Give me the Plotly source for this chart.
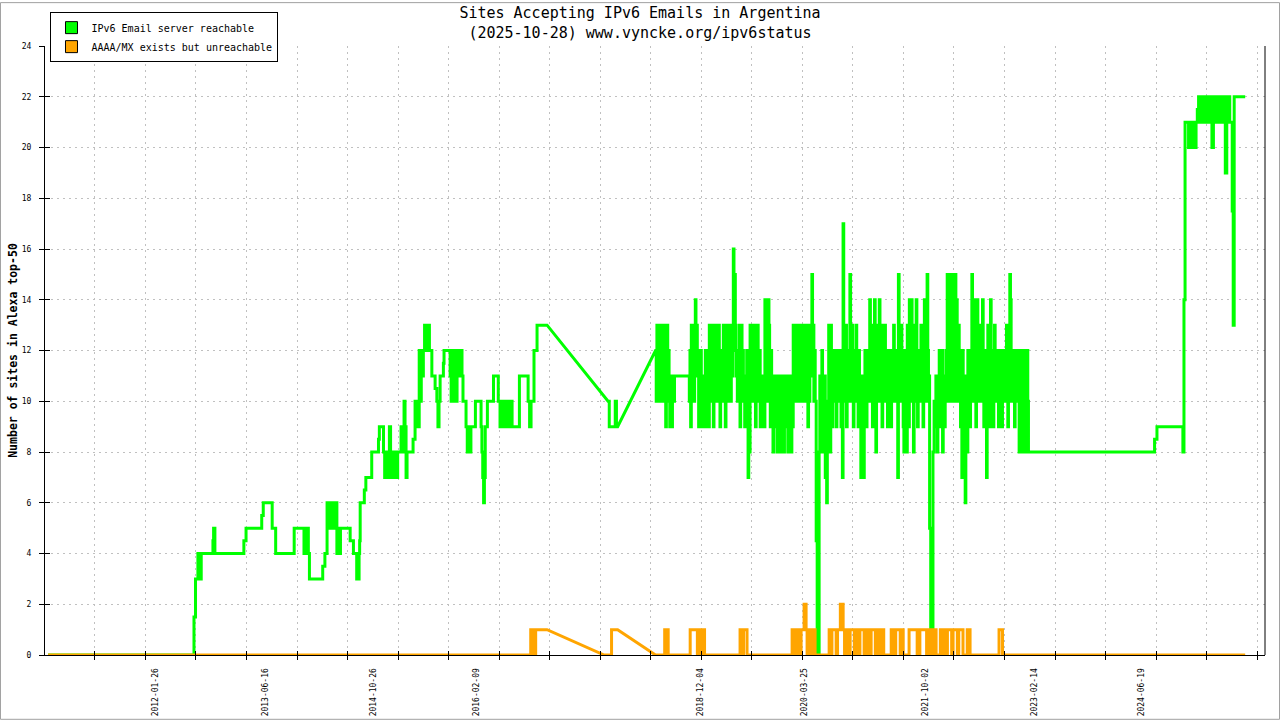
import plotly.graph_objects as go
import pandas as pd

# Each chunk starts at a date and holds its values for equal shares of time
# until the next chunk starts. An empty chunk marks a gap in the measurements.
green_starts = [
    "2010-09-22", "2012-07-23", "2012-07-30", "2012-08-10", "2012-08-29",
    "2012-10-18", "2012-10-27", "2013-03-09", "2013-03-19", "2013-05-30",
    "2013-06-06", "2013-07-17", "2013-08-02", "2013-10-26", "2013-12-10",
    "2014-01-04", "2014-03-06", "2014-03-26", "2014-05-10", "2014-06-01",
    "2014-07-10", "2014-08-09", "2014-08-20", "2014-08-25", "2014-09-13",
    "2014-09-20", "2014-10-17", "2014-11-17", "2014-11-21", "2014-12-10",
    "2015-02-24", "2015-05-04", "2015-06-11", "2015-07-20", "2015-08-04",
    "2015-08-12", "2015-08-27", "2015-09-11", "2015-09-14", "2015-10-12",
    "2015-12-10", "2015-12-24", "2016-01-21", "2016-02-05", "2016-03-02",
    "2016-03-25", "2016-03-31", "2016-04-28", "2016-05-20", "2016-05-28",
    "2016-07-27", "2016-08-25", "2016-10-04", "2016-10-31", "2016-11-14",
    "2016-12-30", "2017-10-06", "2017-11-19", "2018-05-12", "2018-08-07",
    "2018-10-14", "2019-05-04", "2019-07-20", "2020-02-03", "2020-05-14",
    "2020-06-01", "2021-01-13", "2021-10-16", "2021-11-16", "2023-01-18",
    "2024-08-19", "2024-08-30", "2024-12-27", "2025-01-01", "2025-01-06",
    "2025-01-22", "2025-03-09", "2025-08-06", "2025-08-24",
]
green_values = [
    [0], [1.5], [3], [4, 3, 4, 3, 4], [4],
    [4.5, 5, 5], [4], [4.5], [5], [5.5],
    [6], [5], [4], [5], [4, 5, 4, 5, 4],
    [3], [3.5, 4], [6, 5, 6, 6, 5, 6, 5, 6], [4, 5, 4, 5], [5],
    [4.5, 4], [3], [4, 4.5], [6], [6.5],
    [7], [8], [8.5], [9], [8, 7, 8, 7, 7, 9, 8, 7, 8, 7, 8, 7, 8, 8],
    [8, 9, 8, 9, 10, 9, 7, 8, 8, 8, 8, 8, 8, 8.5, 8.5],
    [10, 9, 10, 9, 12, 10, 12, 11], [12, 13, 13, 12, 13, 12, 12], [11], [10.5],
    [10, 9, 10], [11], [11.5], [12],
    [11, 10, 12, 10, 10, 12, 10, 12, 12, 11, 12, 12, 11],
    [10], [9, 8, 9, 8, 9], [9], [10], [9, 8, 7, 6, 7, 9],
    [9], [10], [11], [10], [9, 10, 9, 10, 9, 10, 9, 10, 9, 10, 9, 10, 9],
    [9], [11], [10, 9, 10, 10], [12], [13],
    [], [10, 9, 9, 9, 9, 9, 10, 9], [],
    [12, 10, 13, 11, 13, 10, 12, 11, 13, 10, 13, 11, 12, 10, 13, 9, 10, 13, 10, 12,
     11, 9, 10, 11, 9, 10, 11, 10],
    [11],
    [10, 12, 9, 13, 10, 11, 13, 10, 13, 14, 12, 13, 11, 12, 9, 11, 10, 12, 9, 11,
     10, 9, 11, 10, 12, 9, 11, 10, 12, 9, 13, 11, 10, 13, 11, 12, 9, 13, 10, 11,
     13, 10, 12, 11, 13, 10, 9, 11, 12, 10, 11, 13, 10, 12, 9, 13, 11, 12, 13, 10,
     11, 13, 10, 12, 11, 12],
    [16, 12, 15, 13, 11, 12, 10, 12, 11, 13, 9, 11, 13, 10, 12, 11, 10, 9, 11, 10,
     12, 9, 7, 10, 8],
    [13, 10, 11, 13, 10, 12, 11, 13, 9, 12, 10, 13, 11, 10, 12, 9, 11, 10, 9, 11,
     10, 9, 14, 11, 13, 10, 12, 14, 13, 10, 9, 12, 11, 10, 8, 11, 10, 9, 11, 10,
     8, 10, 11, 9, 11, 8, 10, 11, 9, 10, 8, 11, 10, 9, 11, 10, 8, 10, 11, 9,
     10, 8, 11, 9],
    [13, 10, 11, 12, 10, 13, 11, 10, 12, 11, 13, 10, 12, 10, 13, 11, 12, 10, 13, 11,
     10, 13, 9, 11, 10, 13, 11, 12, 15, 11, 13, 10, 12],
    [10, 4.5, 0, 0],
    [8, 11, 9, 10, 12, 8, 11, 10, 11, 7, 9, 6, 10, 9, 13, 10, 8, 13, 11, 9,
     12, 10, 11, 10, 12, 9, 11, 10, 12, 11, 10, 12, 9, 11, 7, 17, 12, 10, 11, 13,
     9, 12, 10, 11, 10, 15, 12, 10, 13, 11, 9, 12, 10, 11, 13, 10, 11, 9, 12, 10,
     11, 7, 10, 9, 11, 7, 10, 12, 11, 9, 12, 10],
    [12, 10, 14, 11, 10, 13, 9, 12, 11, 14, 10, 8, 12, 13, 11, 10, 14, 12, 10, 13,
     9, 12, 11, 10, 13, 11, 10, 12, 9, 11, 10, 12, 11, 9, 10, 12, 11, 13, 10, 12,
     11, 10, 12, 7, 15, 10, 12, 11, 13, 10, 11, 9, 8, 12, 10, 11, 8, 13, 10, 9,
     14, 10, 12, 14, 11, 12, 8, 13, 10, 11, 14, 10, 9, 12, 11, 12, 10, 13, 11, 10,
     9, 12, 14, 11, 12, 10, 15, 12],
    [11, 5, 0, 0, 8, 10],
    [9, 11, 10, 8, 11, 10, 12, 9, 11, 10, 12, 8, 11, 10, 9, 11, 12, 10,
     15, 11, 12, 15, 10, 13, 11, 15, 12, 10, 13, 11, 15, 10, 14, 12, 11, 13, 10, 12,
     9, 11, 7, 12, 10, 8, 11, 6, 10, 11, 8, 12, 10, 11, 9,
     12, 10, 15, 11, 10, 14, 12, 11, 9, 12, 14, 10, 12, 11, 10, 13, 11, 12, 14, 10,
     9, 12, 11, 10, 7, 11, 13, 10, 12, 9,
     14, 11, 10, 12, 9, 11, 13, 10, 12, 11, 10, 12, 9, 11, 12, 10, 11, 9, 12, 11,
     10, 12, 11, 10, 13, 11, 9, 12, 10, 15,
     14, 11, 12, 10, 11, 12, 9, 11, 10, 12, 11, 10, 12, 8, 11, 10, 9, 12, 8, 10,
     12, 11, 8, 10, 11, 12, 10],
    [8], [8.5], [9], [8], [14], [21],
    [20, 21, 20, 20, 21, 20, 21, 21.5],
    [22, 21, 22, 21, 22, 21, 22, 21, 22, 20, 21, 22, 21, 22, 21, 22, 21, 22, 19, 21,
     22, 21],
    [21, 17.5, 13, 22],
    [22],
]
green_end = "2025-10-09"

orange_starts = [
    "2010-09-22", "2016-10-16", "2016-11-19", "2016-12-30", "2017-09-18",
    "2017-10-22", "2017-11-19", "2018-05-12", "2018-06-23", "2018-07-09",
    "2018-10-18", "2018-12-23", "2019-06-04", "2019-07-06", "2020-01-29",
    "2020-05-18", "2020-07-17", "2021-03-31", "2021-04-28", "2021-06-22",
    "2021-07-19", "2021-10-26", "2021-11-07", "2022-04-25", "2022-09-05",
    "2022-09-21",
]
orange_values = [
    [0], [1, 0, 1, 0, 1, 1], [1], [], [0],
    [1], [], [0], [1, 0, 1], [0],
    [1, 1, 1, 1, 1, 0, 1, 0, 1, 1], [0], [1, 0, 1, 1], [0],
    [1, 0, 1, 1, 0, 1, 1, 1, 0, 1, 1, 1, 2, 2, 1, 0, 1, 1, 1, 0, 1, 1, 1, 0],
    [0],
    [1, 0, 1, 1, 1, 0, 1, 1, 2, 2, 1, 0, 1, 1, 0, 1, 1, 1, 0, 1,
     1, 0, 1, 1, 1, 0, 0, 1, 1, 0, 1, 1, 1, 0, 1, 1, 0, 1, 1, 0],
    [0], [1, 1, 0, 1, 1, 1, 0, 1], [0],
    [1, 1, 1, 1, 1, 1, 0, 0, 1, 1, 1, 1, 1, 0, 0, 1],
    [0],
    [1, 1, 0, 0, 0, 1, 0, 1, 1, 0, 1, 1, 1, 0, 1, 1, 1, 0, 1, 1, 1, 0, 0, 0, 1, 1],
    [0], [1], [0],
]
orange_end = "2025-10-09"

label_dates = ["2012-01-26", "2013-06-16", "2014-10-26", "2016-02-09", "2018-12-04",
               "2020-03-25", "2021-10-02", "2023-02-14", "2024-06-19"]

FONT = "DejaVu Sans Mono"


def build(starts, values, end):
    starts = list(pd.to_datetime(starts))
    ends = starts[1:] + [pd.Timestamp(end)]
    xs, ys = [], []
    for s, e, vals in zip(starts, ends, values):
        if not vals:
            continue
        step = (e - s) / len(vals)
        for k, v in enumerate(vals):
            xs += [s + k * step, s + (k + 1) * step]
            ys += [v, v]
    return xs, ys


gx, gy = build(green_starts, green_values, green_end)
ox, oy = build(orange_starts, orange_values, orange_end)

fig = go.Figure()
fig.add_trace(go.Scatter(x=gx, y=gy, mode="lines", line=dict(color="#00ff00", width=3),
                         showlegend=False, hoverinfo="skip", cliponaxis=False))
fig.add_trace(go.Scatter(x=ox, y=oy, mode="lines", line=dict(color="#ffa500", width=3),
                         showlegend=False, hoverinfo="skip", cliponaxis=False))
# legend swatches
fig.add_trace(go.Bar(x=[None], y=[None], name="IPv6 Email server reachable",
                     marker=dict(color="#00ff00", line=dict(color="black", width=1))))
fig.add_trace(go.Bar(x=[None], y=[None], name="AAAA/MX exists but unreachable",
                     marker=dict(color="#ffa500", line=dict(color="black", width=1))))
# carrier for the inner half of the tick marks
fig.add_trace(go.Scatter(x=[], y=[], xaxis="x2", yaxis="y2", showlegend=False))

x_range = ["2010-09-08", "2026-01-08"]
grid_step = 232 * 86400000
grid_start = "2011-04-25"

fig.update_layout(
    width=1280, height=720,
    margin=dict(l=45, r=15, t=44, b=65),
    paper_bgcolor="white", plot_bgcolor="white",
    font=dict(family=FONT, color="black"),
    title=dict(text="Sites Accepting IPv6 Emails in Argentina<br>(2025-10-28) www.vyncke.org/ipv6status",
               x=0.5, xref="container", xanchor="center", y=0.975, yref="container", yanchor="top",
               font=dict(family=FONT, size=15, color="black")),
    legend=dict(x=0.0045, y=1.0556, xanchor="left", yanchor="top", bgcolor="white",
                bordercolor="black", borderwidth=1, font=dict(family=FONT, size=10),
                tracegroupgap=0, itemwidth=30),
    showlegend=True,
    xaxis=dict(type="date", range=x_range, tickmode="array", tickvals=label_dates,
               ticktext=label_dates, tickangle=-90, ticks="", showgrid=False, zeroline=False,
               showline=True, linecolor="black", linewidth=1, ticklabelstandoff=9,
               tickfont=dict(family=FONT, size=8), automargin=False,
               minor=dict(tickmode="linear", tick0=grid_start, dtick=grid_step,
                          ticks="outside", ticklen=4, tickcolor="black", showgrid=True,
                          gridcolor="#c0c0c0", griddash="2px,4px", gridwidth=1)),
    xaxis2=dict(type="date", range=x_range, overlaying="x", tickmode="linear",
                tick0=grid_start, dtick=grid_step, ticks="inside", ticklen=4,
                tickcolor="black", showticklabels=False, showgrid=False, showline=False,
                zeroline=False, automargin=False),
    yaxis=dict(range=[0, 24], dtick=2, ticks="outside", ticklen=5, tickcolor="black",
               showline=True, linecolor="black", linewidth=1, zeroline=False,
               showgrid=True, gridcolor="#c0c0c0", griddash="2px,4px", gridwidth=1,
               tickfont=dict(family=FONT, size=8), ticklabelstandoff=6, automargin=False,
               title=dict(text="<b>Number of sites in Alexa top-50</b>", standoff=1,
                          font=dict(family=FONT, size=11.5))),
    yaxis2=dict(range=[0, 24], dtick=2, overlaying="y", side="left", ticks="inside",
                ticklen=5, tickcolor="black", showticklabels=False, showgrid=False,
                showline=False, zeroline=False, automargin=False),
    shapes=[
        dict(type="line", xref="paper", yref="paper", x0=1, x1=1, y0=0, y1=1,
             line=dict(color="black", width=1)),
        dict(type="rect", xref="paper", yref="paper", x0=-0.0365, x1=1.0119,
             y0=-0.1056, y1=1.0712, line=dict(color="#a0a0a0", width=1)),
    ],
)

fig.write_html("out.html", post_script="document.body.style.margin='0';",
               config={"displayModeBar": False})
